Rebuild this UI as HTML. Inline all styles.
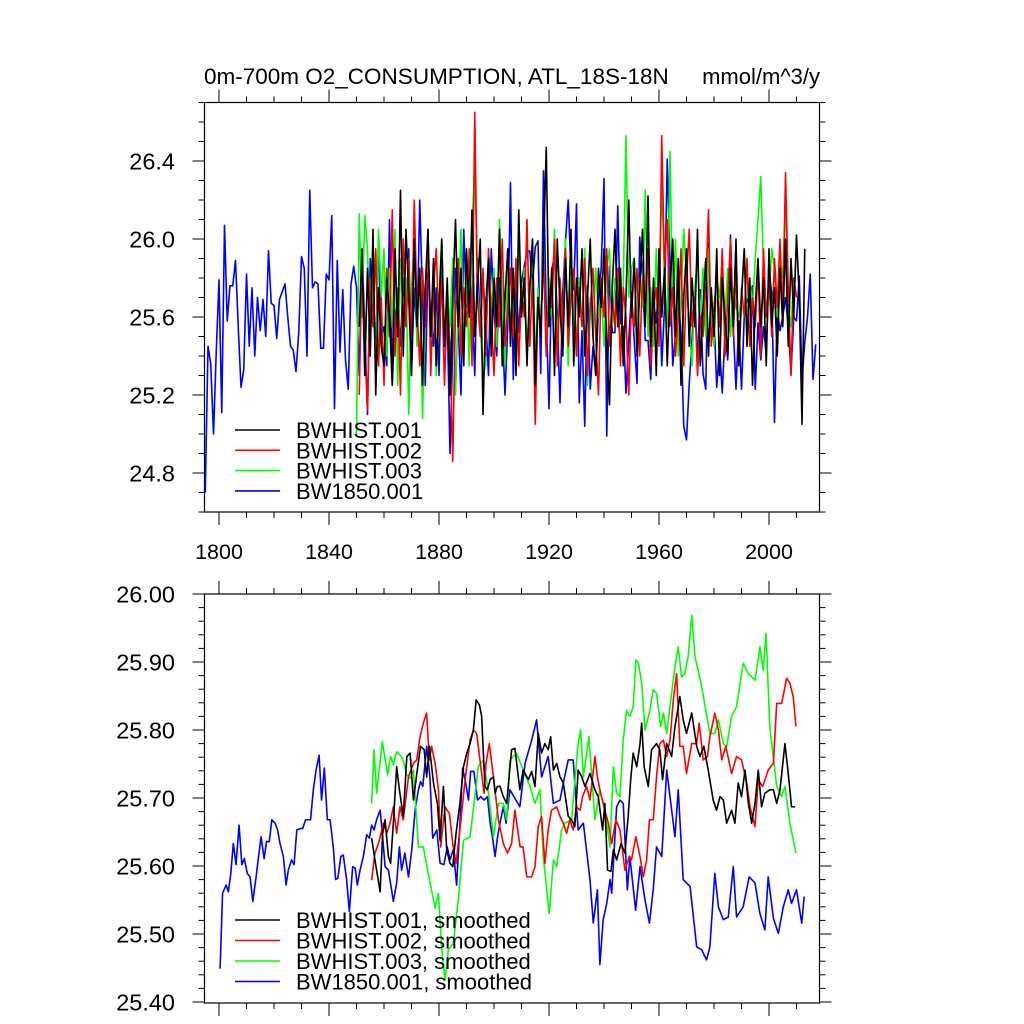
<!DOCTYPE html>
<html><head><meta charset="utf-8"><style>
html,body{margin:0;padding:0;background:#fff;}
svg{display:block;font-family:"Liberation Sans",sans-serif;}
</style></head><body>
<svg id="chart" width="1024" height="1024" viewBox="0 0 1024 1024">
<text x="204" y="84" font-size="22.5">0m-700m O2_CONSUMPTION, ATL_18S-18N</text>
<text x="820" y="84" font-size="22" text-anchor="end">mmol/m^3/y</text>
<g id="top"></g>
<g id="bot"></g>
</svg>
<script>
// ---- data: top panel (annual) ----
const blueTopStart = 1795;
const blueTop = [24.70,25.45,25.36,25.00,25.42,25.79,25.11,26.07,25.58,25.76,25.76,25.89,25.55,25.24,25.33,25.82,25.45,25.75,25.40,25.70,25.53,25.69,25.50,25.94,25.67,25.66,25.49,25.69,25.73,25.77,25.60,25.45,25.43,25.32,25.52,25.91,25.85,25.40,26.25,25.75,25.78,25.77,25.44,25.44,25.82,25.79,26.12,25.13,25.89,25.42,25.74,25.38,25.23,25.77,25.86,
25.75,25.30,25.95,25.55,25.10,25.90,25.65,25.40,26.00,25.50,25.55,25.35,26.10,25.25,25.60,25.70,25.45,25.80,25.55,25.95,25.30,25.75,25.50,26.20,25.70,25.25,25.85,25.60,25.45,25.75,25.30,25.95,25.40,25.60,24.90,25.45,25.85,25.55,25.20,26.05,25.65,25.85,25.70,25.30,25.90,25.55,25.80,25.60,25.30,25.95,25.65,25.40,25.80,25.55,25.20,25.55,
26.29,25.28,25.78,25.52,25.78,25.86,25.93,25.94,25.76,25.96,25.99,25.31,26.35,25.62,25.13,25.84,25.92,25.62,25.16,25.72,25.99,26.20,25.82,25.74,26.18,25.16,25.53,25.04,25.76,25.23,25.45,25.31,25.65,25.86,26.31,24.99,25.86,25.52,25.52,26.17,25.57,25.55,25.21,25.48,25.72,25.48,25.26,26.01,25.81,25.48,25.48,25.28,25.69,25.57,25.84,25.35,25.65,26.41,25.88,25.35,25.52,25.74,25.52,25.04,24.97,25.26,25.48,25.74,25.36,25.74,25.31,25.23,25.98,25.62,25.60,25.24,25.45,25.21,25.52,25.38,26.02,25.55,25.23,25.58,25.23,25.60,25.69,25.65,25.76,25.23,25.57,25.38,25.55,25.41,25.84,25.72,25.06,25.64,25.53,25.60,25.70,25.55,25.31,25.60,25.58,25.81,25.28,25.47,25.60,25.82,25.28,25.46];
const blackTopStart = 1851;
const blackTop = [25.55,25.95,25.30,25.85,25.40,26.05,25.20,25.75,25.45,25.35,25.80,25.60,25.25,25.95,25.50,26.25,25.40,26.05,25.70,25.30,26.00,25.55,25.85,25.25,25.75,26.05,25.50,25.90,25.35,25.65,26.00,25.45,25.80,25.20,25.70,26.10,25.55,25.85,25.35,25.95,25.60,26.15,25.50,25.75,26.00,25.10,25.65,25.90,25.40,25.80,25.55,26.05,25.35,25.70,25.95,25.45,25.85,25.30,26.15,25.60,25.80,25.35,25.75,26.00,25.25,25.70,25.50,25.95,26.47,25.55,25.85,25.30,26.00,25.65,25.40,25.90,25.55,26.05,25.35,25.80,25.60,25.95,25.40,25.70,26.00,25.50,25.30,25.85,25.65,25.95,25.45,25.15,25.75,26.05,25.55,25.85,25.35,25.70,26.20,25.60,25.90,25.40,25.75,26.05,25.55,26.22,25.45,25.80,25.30,25.95,25.60,25.85,25.35,25.75,26.00,25.50,25.90,25.25,25.70,25.95,25.45,25.80,25.55,26.05,25.35,25.65,25.90,25.40,25.75,25.50,25.95,25.30,25.80,25.60,25.40,25.85,25.55,26.00,25.35,25.70,25.95,25.45,25.80,25.25,25.65,25.90,25.55,25.80,25.35,25.95,25.55,25.75,25.40,25.85,25.55,26.00,25.45,25.90,25.60,26.02,25.70,25.05,25.95];
const redTopStart = 1851;
const redTop = [25.20,25.90,25.45,25.12,25.80,25.55,25.95,25.35,25.70,25.25,25.85,25.50,26.15,25.40,25.75,25.20,26.00,25.55,25.90,25.45,26.20,25.65,25.35,25.85,25.55,26.05,25.30,25.75,25.95,25.50,25.80,25.25,25.70,25.45,24.86,25.65,25.90,25.40,25.75,25.55,25.95,25.35,26.65,25.70,25.50,25.85,25.40,25.95,25.60,25.30,25.80,25.55,26.00,25.45,25.65,25.85,25.50,25.90,25.35,25.75,25.60,26.10,25.45,25.80,25.05,25.70,25.55,25.90,25.40,25.75,25.65,26.00,25.35,25.80,25.55,25.95,25.45,25.70,25.85,25.40,25.75,25.55,25.90,25.30,25.65,25.85,25.50,25.20,25.80,25.60,25.95,25.45,25.70,25.55,25.85,25.35,25.75,25.60,25.20,25.70,25.55,25.85,25.40,25.80,25.60,25.95,25.35,25.65,25.75,25.45,26.53,25.85,26.10,25.55,25.75,25.40,25.60,25.95,25.35,25.80,26.05,25.55,25.70,25.30,25.60,25.50,25.75,26.15,25.45,25.65,25.80,25.55,25.95,25.40,25.70,26.00,25.50,25.85,25.35,25.75,25.60,25.90,25.45,25.70,25.55,25.85,25.40,25.95,25.60,25.80,25.50,25.90,25.65,26.00,25.60,26.34,25.75,25.30,25.80,25.70];
const greenTopStart = 1850;
const greenTop = [25.00,26.13,25.60,26.12,25.95,25.45,25.80,25.30,26.05,25.70,25.95,25.40,25.85,25.55,26.05,25.25,25.90,25.60,25.80,25.10,25.75,26.00,25.45,25.85,25.08,25.65,25.95,25.50,25.80,25.30,25.70,26.00,25.40,25.75,25.55,25.90,25.20,25.65,26.05,25.45,25.80,25.35,26.05,26.39,25.75,25.55,25.30,25.35,25.95,25.60,25.85,25.45,26.10,25.65,25.35,25.90,25.55,25.75,25.40,26.00,25.65,25.85,25.45,25.70,26.00,25.35,25.75,25.55,25.95,25.40,25.80,25.60,26.05,25.45,25.75,25.55,26.00,25.35,25.85,25.60,25.40,25.80,25.55,25.95,25.25,25.70,25.50,25.85,25.60,25.75,25.45,25.85,25.95,25.55,25.80,25.65,25.40,25.75,26.53,25.70,25.85,25.90,25.55,25.80,25.65,26.25,25.50,25.75,25.45,25.95,25.60,26.30,25.80,25.55,26.45,25.65,26.00,25.40,25.70,26.05,25.80,25.55,25.35,25.75,25.90,25.60,25.85,25.50,25.95,25.65,25.45,25.80,25.70,25.90,25.60,25.85,25.50,25.75,25.65,25.60,25.70,25.95,25.55,25.80,25.65,25.90,26.10,26.32,25.85,25.60,25.70,25.95,25.85,25.60,25.90,25.80,26.20,25.65,25.55,25.80];

// ---- data: bottom panel (smoothed) ----
const blueSmYears = [1800.4,1801.3,1802.6,1803.4,1804.3,1805.2,1806.2,1807.3,1808.3,1809.2,1810.3,1811.3,1812.3,1813.5,1814.3,1815.3,1816.4,1817.3,1818.3,1819.2,1820.4,1821.3,1822.2,1823.4,1824.4,1825.2,1826.4,1827.3,1828.3,1829.5,1830.4,1831.5,1832.5,1833.3,1834.3,1835.3,1836.4,1837.3,1838.3,1839.4,1840.4,1841.6,1842.4,1843.2,1844.3,1845.2,1846.4,1847.4,1848.6,1849.5,1850.3,1851.3,1852.5,1853.7,1854.7,1855.5,1856.4,1857.3,1858.6,1859.5,1860.4,1861.6,1863.4,1864.6,1865.6,1866.4,1867.6,1868.9,1870.1,1871.3,1872.5,1873.3,1874.1,1875.5,1876.7,1877.7,1879.2,1880.4,1881.8,1883.0,1884.0,1885.2,1886.4,1887.6,1888.6,1889.7,1890.7,1891.5,1892.7,1894.0,1895.2,1896.4,1897.6,1898.6,1899.5,1900.4,1901.3,1902.2,1903.4,1904.4,1905.8,1909.4,1911.3,1913.7,1915.5,1917.3,1919.7,1921.6,1924.0,1925.2,1927.0,1928.8,1930.6,1932.5,1934.9,1936.1,1937.6,1938.5,1939.7,1941.0,1942.2,1942.8,1944.6,1945.8,1947.0,1948.5,1949.4,1951.5,1953.1,1954.9,1956.5,1957.9,1959.1,1961.0,1962.8,1964.0,1965.8,1967.0,1968.8,1971.3,1973.7,1975.5,1977.3,1978.5,1980.3,1981.6,1983.4,1985.2,1987.0,1988.2,1990.6,1992.8,1994.9,1996.7,1998.5,1999.7,2001.6,2003.4,2005.2,2007.0,2008.2,2010.0,2011.9,2012.8];
const blueSm = [25.449,25.560,25.572,25.562,25.589,25.633,25.602,25.660,25.602,25.611,25.589,25.584,25.548,25.584,25.611,25.643,25.611,25.636,25.636,25.668,25.663,25.653,25.633,25.614,25.572,25.594,25.609,25.602,25.653,25.655,25.655,25.668,25.668,25.668,25.712,25.741,25.763,25.697,25.744,25.668,25.668,25.626,25.580,25.582,25.614,25.616,25.580,25.533,25.599,25.597,25.572,25.594,25.614,25.646,25.641,25.660,25.653,25.668,25.682,25.643,25.599,25.594,25.548,25.575,25.628,25.594,25.619,25.584,25.624,25.682,25.712,25.724,25.717,25.776,25.731,25.641,25.653,25.604,25.602,25.628,25.609,25.624,25.572,25.660,25.744,25.722,25.697,25.739,25.739,25.697,25.702,25.697,25.702,25.663,25.641,25.614,25.643,25.663,25.687,25.663,25.712,25.687,25.751,25.785,25.815,25.731,25.761,25.692,25.697,25.722,25.756,25.756,25.653,25.663,25.580,25.516,25.565,25.455,25.521,25.545,25.580,25.560,25.687,25.697,25.692,25.565,25.614,25.535,25.599,25.550,25.516,25.565,25.628,25.614,25.741,25.702,25.643,25.712,25.580,25.570,25.481,25.477,25.462,25.481,25.589,25.540,25.521,25.525,25.599,25.525,25.540,25.584,25.575,25.530,25.506,25.584,25.523,25.501,25.540,25.565,25.545,25.565,25.516,25.555];
const blackSmYears = [1855.5,1856.7,1858.6,1859.5,1860.4,1861.6,1862.4,1863.4,1864.6,1865.6,1867.0,1868.3,1869.5,1870.7,1872.1,1873.3,1874.6,1875.5,1876.5,1878.0,1879.4,1880.4,1881.6,1882.8,1884.0,1885.0,1886.2,1887.6,1888.9,1890.1,1891.3,1892.5,1893.5,1894.7,1895.5,1896.7,1897.6,1898.6,1899.8,1900.4,1901.2,1902.2,1903.4,1904.6,1906.4,1907.6,1909.4,1910.6,1912.5,1913.7,1914.9,1916.1,1917.3,1918.5,1919.7,1920.6,1921.6,1922.8,1924.0,1925.2,1927.0,1928.2,1929.4,1930.6,1931.9,1933.1,1934.9,1936.7,1937.9,1939.5,1940.3,1941.3,1942.5,1943.4,1944.6,1946.2,1947.6,1948.8,1949.7,1950.6,1951.9,1953.1,1953.7,1954.6,1956.1,1957.3,1959.1,1960.3,1961.3,1962.8,1964.6,1965.8,1967.6,1968.8,1970.0,1971.9,1973.7,1974.9,1976.3,1977.9,1979.7,1980.9,1982.2,1983.4,1984.6,1986.4,1987.6,1988.8,1990.0,1991.3,1992.5,1993.7,1994.9,1996.1,1997.3,1998.5,2000.3,2001.6,2002.8,2004.0,2005.8,2007.0,2008.2,2009.4];
const blackSm = [25.641,25.609,25.562,25.648,25.668,25.614,25.604,25.663,25.746,25.712,25.673,25.761,25.766,25.697,25.741,25.776,25.771,25.731,25.776,25.722,25.692,25.638,25.717,25.624,25.604,25.599,25.648,25.692,25.746,25.766,25.780,25.800,25.844,25.837,25.820,25.717,25.712,25.727,25.731,25.707,25.717,25.717,25.702,25.692,25.771,25.773,25.712,25.741,25.727,25.739,25.717,25.795,25.766,25.780,25.771,25.790,25.741,25.751,25.731,25.722,25.673,25.668,25.658,25.741,25.731,25.717,25.736,25.712,25.702,25.653,25.692,25.594,25.592,25.624,25.609,25.633,25.619,25.673,25.727,25.766,25.746,25.780,25.810,25.746,25.717,25.771,25.780,25.771,25.727,25.780,25.761,25.805,25.849,25.815,25.795,25.825,25.776,25.761,25.776,25.741,25.697,25.682,25.702,25.697,25.663,25.682,25.663,25.722,25.702,25.741,25.692,25.663,25.692,25.741,25.687,25.707,25.712,25.712,25.692,25.712,25.780,25.736,25.687,25.687];
const redSmYears = [1855.5,1856.7,1858.0,1859.8,1861.0,1862.2,1863.4,1864.6,1865.8,1867.0,1868.9,1870.7,1871.9,1873.1,1874.3,1875.5,1876.5,1877.3,1878.6,1879.8,1880.6,1882.2,1883.8,1885.0,1886.2,1887.6,1889.5,1891.3,1892.5,1893.7,1895.2,1896.4,1897.1,1898.3,1899.8,1901.6,1903.4,1904.9,1906.4,1907.6,1909.5,1910.6,1911.9,1913.7,1914.9,1916.1,1917.3,1918.5,1919.7,1920.9,1922.8,1924.0,1925.2,1926.4,1927.6,1928.8,1930.0,1931.3,1932.2,1933.7,1934.9,1936.7,1937.6,1938.5,1940.3,1941.6,1942.8,1944.3,1945.8,1947.6,1949.2,1950.0,1951.6,1953.1,1954.3,1955.5,1956.5,1957.9,1959.1,1960.3,1961.6,1962.8,1964.0,1965.2,1966.4,1967.6,1968.8,1970.0,1971.9,1973.7,1974.6,1976.1,1977.6,1978.5,1980.3,1981.6,1982.8,1984.3,1986.4,1988.2,1990.0,1991.9,1993.1,1994.9,1996.1,1997.7,1999.7,2001.6,2002.8,2004.6,2006.4,2007.6,2008.8,2009.8];
const redSm = [25.579,25.619,25.633,25.663,25.648,25.663,25.687,25.648,25.687,25.668,25.731,25.751,25.756,25.790,25.810,25.825,25.756,25.776,25.751,25.712,25.628,25.687,25.677,25.633,25.604,25.653,25.727,25.785,25.800,25.795,25.746,25.707,25.751,25.780,25.731,25.668,25.633,25.619,25.633,25.682,25.628,25.628,25.584,25.584,25.599,25.658,25.673,25.604,25.653,25.682,25.687,25.673,25.663,25.648,25.668,25.653,25.687,25.682,25.702,25.717,25.697,25.761,25.731,25.712,25.682,25.663,25.633,25.668,25.653,25.594,25.614,25.609,25.643,25.614,25.584,25.609,25.668,25.668,25.731,25.780,25.785,25.761,25.785,25.844,25.883,25.776,25.776,25.736,25.780,25.780,25.810,25.756,25.761,25.790,25.825,25.800,25.756,25.776,25.736,25.761,25.756,25.722,25.687,25.658,25.727,25.717,25.741,25.751,25.839,25.839,25.876,25.869,25.849,25.805];
const greenSmYears = [1855.5,1856.4,1857.3,1859.4,1861.3,1862.4,1863.4,1864.6,1866.4,1867.3,1868.2,1869.5,1870.7,1872.5,1874.3,1876.1,1878.6,1879.8,1881.0,1882.2,1883.4,1885.2,1887.0,1888.9,1891.3,1894.3,1896.1,1898.0,1899.8,1901.6,1903.4,1904.6,1905.8,1908.2,1910.6,1913.1,1914.9,1916.7,1917.9,1920.1,1921.6,1922.8,1924.6,1925.8,1928.2,1930.6,1931.5,1932.5,1934.5,1936.7,1938.5,1940.3,1942.2,1943.4,1944.6,1945.8,1947.0,1948.2,1949.4,1950.6,1951.6,1952.5,1953.7,1954.9,1956.7,1957.9,1959.1,1960.6,1961.6,1962.8,1964.6,1965.8,1967.0,1968.2,1969.4,1970.6,1971.9,1973.1,1975.5,1978.5,1980.3,1981.6,1983.4,1984.6,1986.4,1988.2,1990.6,1992.5,1994.9,1996.7,1997.9,1998.9,2000.3,2002.8,2004.6,2005.8,2007.6,2009.8];
const greenSm = [25.692,25.771,25.707,25.783,25.734,25.761,25.749,25.768,25.761,25.751,25.734,25.729,25.741,25.628,25.628,25.589,25.538,25.560,25.477,25.432,25.477,25.486,25.550,25.638,25.643,25.746,25.756,25.707,25.643,25.692,25.692,25.668,25.756,25.766,25.741,25.717,25.692,25.712,25.614,25.530,25.609,25.599,25.653,25.663,25.668,25.780,25.800,25.731,25.790,25.668,25.712,25.682,25.628,25.746,25.707,25.702,25.785,25.829,25.820,25.834,25.903,25.898,25.869,25.800,25.829,25.859,25.854,25.805,25.825,25.795,25.854,25.893,25.922,25.878,25.883,25.908,25.969,25.908,25.864,25.795,25.795,25.815,25.780,25.775,25.820,25.834,25.898,25.883,25.873,25.922,25.888,25.942,25.805,25.717,25.702,25.717,25.663,25.619];

const xTickYears = [1800,1840,1880,1920,1960,2000];
const topYTicks = [24.8,25.2,25.6,26.0,26.4];
const botYTicks = [25.40,25.50,25.60,25.70,25.80,25.90,26.00];
const legendTop = ["BWHIST.001","BWHIST.002","BWHIST.003","BW1850.001"];
const legendBot = ["BWHIST.001, smoothed","BWHIST.002, smoothed","BWHIST.003, smoothed","BW1850.001, smoothed"];
const colors = ["#000000","#ff0000","#00ff00","#0000ff"];

const NS = "http://www.w3.org/2000/svg";
const L = 204.5, R = 819.5;
function xs(yr){ return 219 + (yr - 1800) * 2.75; }
function mk(tag, attrs, parent){ const e = document.createElementNS(NS, tag); for (const k in attrs) e.setAttribute(k, attrs[k]); parent.appendChild(e); return e; }

function panel(g, top, bot, yMin, yMax, yFn, majorStep, minorStep, yTicks, fmt, showX){
  const nMin = Math.round((yMax - yMin) / minorStep);
  for (let i = 0; i <= nMin; i++){
    const v = yMin + i * minorStep; const y = yFn(v);
    const isMaj = Math.abs(v / majorStep - Math.round(v / majorStep)) < 1e-6;
    const len = isMaj ? 12 : 6;
    const t1 = mk('line', {x1: L - len, x2: L, y1: y, y2: y, stroke: '#000', 'stroke-width': 1}, g);
    
    
    const t2 = mk('line', {x1: R, x2: R + len, y1: y, y2: y, stroke: '#000', 'stroke-width': 1}, g);
    
    
  }
  yTicks.forEach(v => {
    const t = mk('text', {x: 175, y: yFn(v) + 8.5, 'font-size': 23.5, 'text-anchor': 'end'}, g);
    t.textContent = fmt(v);
    
    
  });
  for (let yr = 1790; yr <= 2020; yr += 10){
    const x = xs(yr); if (x < L || x > R) continue;
    const isMaj = (yr - 1800) % 40 === 0; const len = isMaj ? 13 : 6;
    const a = mk('line', {x1: x, x2: x, y1: top - len, y2: top, stroke: '#000', 'stroke-width': 1}, g);
    
    
    const b = mk('line', {x1: x, x2: x, y1: bot, y2: bot + len, stroke: '#000', 'stroke-width': 1}, g);
    
    
  }
  if (showX) xTickYears.forEach(yr => {
    const t = mk('text', {x: xs(yr), y: bot + 47, 'font-size': 21.5, 'text-anchor': 'middle'}, g);
    t.textContent = yr;
    
    
  });
  const fr = mk('rect', {x: L, y: top, width: R - L, height: bot - top, fill: 'none', stroke: '#000', 'stroke-width': 1.2}, g);
  
  
}
function series(g, years, vals, yFn, color, name){
  const pts = vals.map((v, i) => xs(years[i]).toFixed(2) + ',' + yFn(v).toFixed(2)).join(' ');
  const p = mk('polyline', {points: pts, fill: 'none', stroke: color, 'stroke-width': 1.6, 'stroke-linejoin': 'round'}, g);
  
  
}
function legend(g, labels, y0, dy){
  labels.forEach((lab, i) => {
    const y = y0 + i * dy;
    const ln = mk('line', {x1: 235, x2: 280, y1: y, y2: y, stroke: colors[i], 'stroke-width': 1.6}, g);
    
    
    const t = mk('text', {x: 296, y: y + 8, 'font-size': 22}, g);
    t.textContent = lab;
    
    
  });
}
const idx = (start, arr) => arr.map((_, i) => start + i);

const gT = document.getElementById('top');
const yT = v => 161 + (26.4 - v) * 195;
panel(gT, 102.5, 512, 24.6, 26.7, yT, 0.4, 0.1, topYTicks, v => v.toFixed(1), true);
series(gT, idx(blueTopStart, blueTop), blueTop, yT, colors[3], 'bw1850-001-line');
series(gT, idx(greenTopStart, greenTop), greenTop, yT, colors[2], 'bwhist-003-line');
series(gT, idx(redTopStart, redTop), redTop, yT, colors[1], 'bwhist-002-line');
series(gT, idx(blackTopStart, blackTop), blackTop, yT, colors[0], 'bwhist-001-line');
legend(gT, legendTop, 430, 20.3);

const gB = document.getElementById('bot');
const yB = v => 594 + (26.0 - v) * 680;
panel(gB, 594, 1003, 25.40, 26.00, yB, 0.1, 0.02, botYTicks, v => v.toFixed(2), false);
series(gB, blueSmYears, blueSm, yB, colors[3], 'bw1850-001-smoothed-line');
series(gB, greenSmYears, greenSm, yB, colors[2], 'bwhist-003-smoothed-line');
series(gB, redSmYears, redSm, yB, colors[1], 'bwhist-002-smoothed-line');
series(gB, blackSmYears, blackSm, yB, colors[0], 'bwhist-001-smoothed-line');
legend(gB, legendBot, 920, 20.5);
</script>
</body></html>
